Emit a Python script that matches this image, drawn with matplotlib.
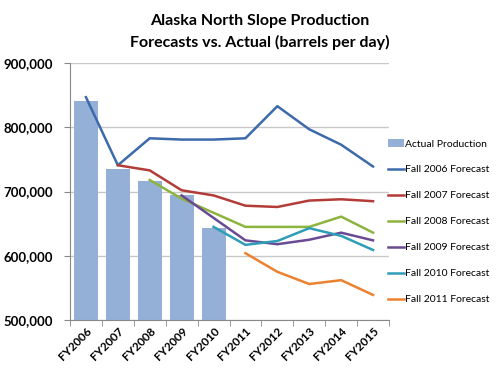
import matplotlib
matplotlib.use("Agg")
import matplotlib.pyplot as plt
import numpy as np

plt.rcParams['font.family'] = ['Lato', 'DejaVu Sans']

years = ["FY2006", "FY2007", "FY2008", "FY2009", "FY2010",
         "FY2011", "FY2012", "FY2013", "FY2014", "FY2015"]
actual = [841000, 735000, 717000, 694000, 644000]
nan = np.nan
fall2006 = [847000, 741000, 783000, 781000, 781000, 783000, 833000, 797000, 773000, 739000]
fall2007 = [nan, 741000, 733000, 702000, 694000, 678000, 676000, 686000, 688000, 685000]
fall2008 = [nan, nan, 718000, 689000, 667000, 645000, 645000, 645000, 661000, 636000]
fall2009 = [nan, nan, nan, 694000, 659000, 624000, 618000, 625000, 636000, 624000]
fall2010 = [nan, nan, nan, nan, 645000, 617000, 623000, 643000, 631000, 609000]
fall2011 = [nan, nan, nan, nan, nan, 604000, 575000, 556000, 562000, 539000]

series = [
    ("Fall 2006 Forecast", fall2006, "#3C6AAB"),
    ("Fall 2007 Forecast", fall2007, "#B33C38"),
    ("Fall 2008 Forecast", fall2008, "#8DB43E"),
    ("Fall 2009 Forecast", fall2009, "#6B4A94"),
    ("Fall 2010 Forecast", fall2010, "#2E9DB8"),
    ("Fall 2011 Forecast", fall2011, "#EC8130"),
]

fig = plt.figure(figsize=(5.0, 3.76), dpi=100)
ax = fig.add_axes([0.14, 0.149, 0.638, 0.683])

x = np.arange(len(years))
handles = []
b = ax.bar(x[:len(actual)], [v - 500000 for v in actual], bottom=500000, width=0.75,
           color="#95B0D6", label="Actual Production", zorder=2)
handles.append(b)
for name, vals, col in series:
    ln, = ax.plot(x, vals, color=col, lw=1.8, label=name, zorder=3)
    handles.append(ln)

ax.set_xlim(-0.5, len(years) - 0.5)
ax.set_ylim(500000, 900000)
ax.set_yticks([500000, 600000, 700000, 800000, 900000])
ax.set_yticklabels(["500,000", "600,000", "700,000", "800,000", "900,000"],
                   fontsize=9.5, fontweight="bold")
ax.set_xticks(x)
ax.set_xticklabels(years, rotation=45, ha="right", rotation_mode="anchor",
                   fontsize=8.5, fontweight="bold")
ax.tick_params(axis="x", length=0, pad=4)
ax.set_xticks(np.arange(-0.5, len(years), 1), minor=True)
ax.tick_params(axis="x", which="minor", length=4, color="#888888")
ax.tick_params(axis="y", length=4, color="#888888", pad=8)
ax.grid(axis="y", color="#C8C8C8", lw=1, zorder=0)
ax.set_axisbelow(True)
for s in ["top", "right"]:
    ax.spines[s].set_visible(False)
for s in ["left", "bottom"]:
    ax.spines[s].set_color("#888888")

fig.text(0.52, 0.944, "Alaska North Slope Production", ha="center", va="center",
         fontsize=11.5, fontweight="bold")
fig.text(0.52, 0.888, "Forecasts vs. Actual (barrels per day)", ha="center", va="center",
         fontsize=11.5, fontweight="bold")

leg = ax.legend(handles=handles, loc="upper left", bbox_to_anchor=(0.985, 0.72),
                frameon=False, fontsize=7.5, handlelength=1.5, handletextpad=0.1,
                labelspacing=1.6, borderaxespad=0)

fig.savefig("out.png", dpi=100)
